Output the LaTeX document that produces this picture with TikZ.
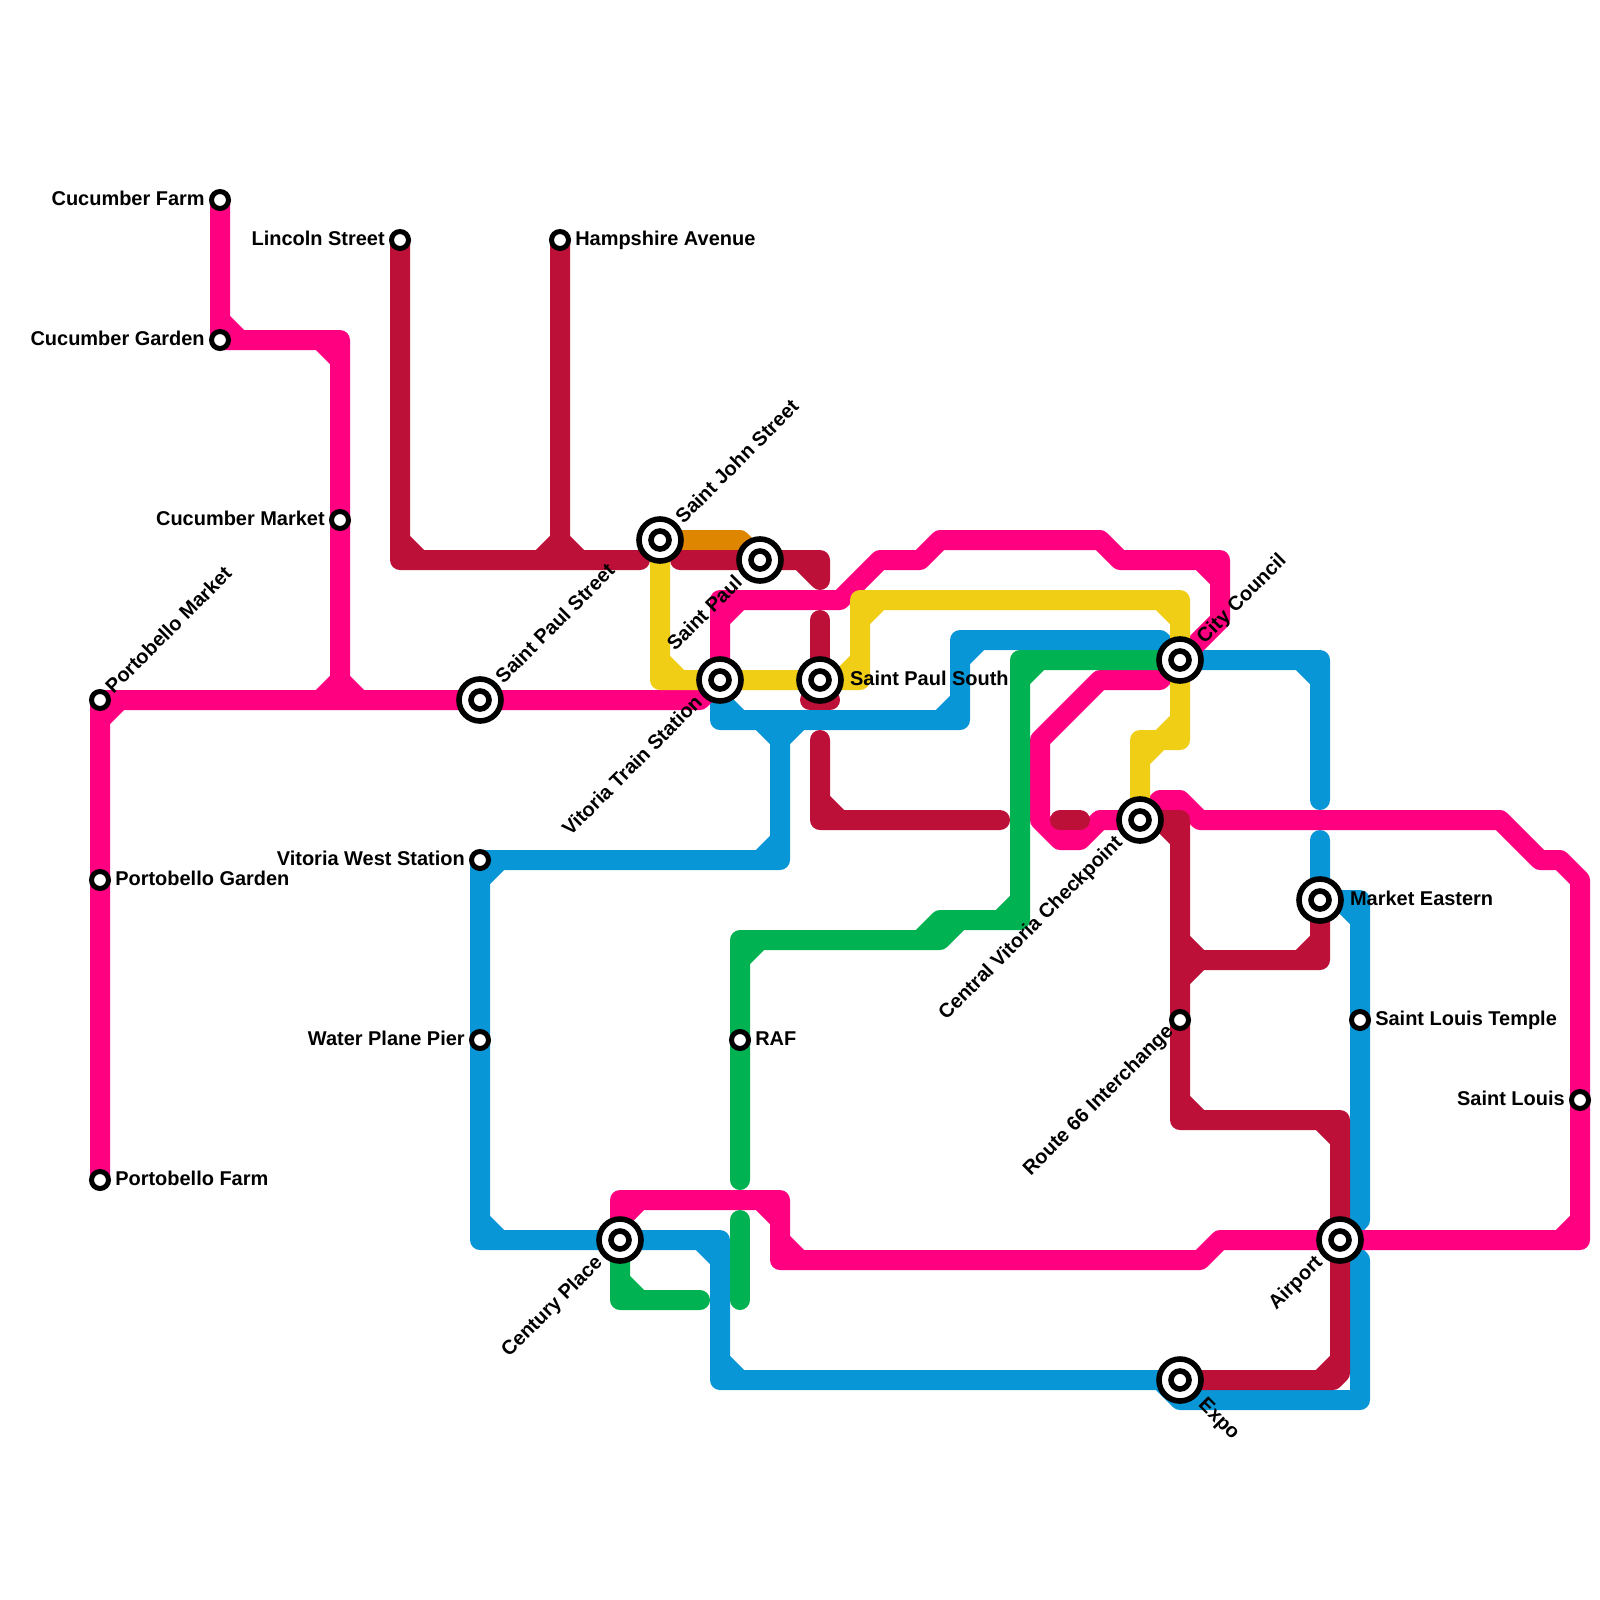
\documentclass[tikz,border=0pt]{standalone}
\usepackage{fontspec}
\setmainfont{Liberation Sans}
\usetikzlibrary{positioning,calc,backgrounds}
\definecolor{linepink}{HTML}{FF0080}
\definecolor{linered}{HTML}{BD1038}
\definecolor{lineblue}{HTML}{0896D7}
\definecolor{linegreen}{HTML}{00B251}
\definecolor{lineyellow}{HTML}{F0CE15}
\definecolor{lineorange}{HTML}{DF8600}

\begin{document}
\begin{tikzpicture}[x=0.5cm,y=-0.5cm,
  route/.style={line width=5mm,line cap=round,line join=round},
  stop/.style={circle,draw=black,fill=white,line width=1.25mm,minimum size=4.25mm,inner sep=0pt},
  hub/.style={circle,draw=black,fill=white,line width=1.4mm,minimum size=10.5mm,inner sep=0pt,
    path picture={\draw[black,line width=1.4mm] (path picture bounding box.center) circle (2.25mm);}},
  lab/.style={font=\fontsize{14.2}{16}\selectfont\bfseries,inner sep=0pt,text height=3.5mm,text depth=1mm}]

  \useasboundingbox (0,0) rectangle (80,80);

  % stations
  \node[stop] (cf) at (11,10) {};
  \node[stop] (cg) at (11,17) {};
  \node[stop] (ls) at (20,12) {};
  \node[stop] (ha) at (28,12) {};
  \node[stop] (cm) at (17,26) {};
  \node[stop] (pm) at (5,35) {};
  \node[stop] (pg) at (5,44) {};
  \node[stop] (pf) at (5,59) {};
  \node[stop] (vw) at (24,43) {};
  \node[stop] (wp) at (24,52) {};
  \node[stop] (raf) at (37,52) {};
  \node[stop] (ri) at (59,51) {};
  \node[stop] (st) at (68,51) {};
  \node[stop] (sl) at (79,55) {};
  \node[hub] (ss) at (24,35) {};
  \node[hub] (sj) at (33,27) {};
  \node[hub] (sp) at (38,28) {};
  \node[hub] (vt) at (36,34) {};
  \node[hub] (so) at (41,34) {};
  \node[hub] (cc) at (59,33) {};
  \node[hub] (cv) at (57,41) {};
  \node[hub] (me) at (66,45) {};
  \node[hub] (ap) at (67,62) {};
  \node[hub] (ex) at (59,69) {};
  \node[hub] (cp) at (31,62) {};

  \begin{scope}[on background layer]
    % orange line
    \draw[route,lineorange] (sj.center) -- (37,27) -- (sp.center);

    % blue line
    \draw[route,lineblue] (vw.center) -- (39,43) -- (39,36)
      (38,43) -- (39,42) (38,36) -- (39,37) (40,36) -- (39,37);
    \draw[route,lineblue] (vt.center) -- (36,36) -- (48,36) -- (48,32) -- (58,32) -- (cc.center)
      -- (66,33) -- (66,40)
      (36,35) -- (37,36) (47,36) -- (48,35) (48,33) -- (49,32) (65,33) -- (66,34);
    \draw[route,lineblue] (66,42) -- (me.center) -- (68,45) -- (st.center) -- (68,61) -- (ap.center)
      -- (68,63) -- (68,70) -- (59,70) -- (58,69)
      (67,45) -- (68,46);
    \draw[route,lineblue] (vw.center) -- (wp.center) -- (24,62) -- (cp.center) -- (36,62) -- (36,69)
      -- (ex.center)
      (24,44) -- (25,43) (24,61) -- (25,62) (35,62) -- (36,63) (36,68) -- (37,69);

    % pink line
    \draw[route,linepink] (cf.center) -- (cg.center) -- (17,17) -- (cm.center) -- (17,35)
      (11,16) -- (12,17) (16,17) -- (17,18) (16,35) -- (17,34) (18,35) -- (17,34);
    \draw[route,linepink] (pf.center) -- (pg.center) -- (pm.center) -- (ss.center) -- (35,35)
      -- (vt.center) -- (36,30) -- (42,30) -- (44,28) -- (46,28) -- (47,27) -- (55,27) -- (56,28)
      -- (61,28) -- (61,31) -- (cc.center) -- (58,34) -- (55,34) -- (52,37) -- (52,41) -- (53,42)
      -- (54,42) -- (55,41) -- (cv.center) -- (58,40) -- (59,40) -- (60,41) -- (75,41) -- (77,43)
      -- (78,43) -- (79,44) -- (sl.center) -- (79,62) -- (ap.center) -- (61,62) -- (60,63)
      -- (39,63) -- (39,60) -- (31,60) -- (cp.center)
      (5,36) -- (6,35) (36,31) -- (37,30) (60,28) -- (61,29) (78,62) -- (79,61)
      (39,62) -- (40,63) (38,60) -- (39,61) (31,61) -- (32,60);

    % red line, with its gaps
    \draw[route,linered] (ls.center) -- (20,28) -- (32,28) (ha.center) -- (28,28)
      (20,27) -- (21,28) (27,28) -- (28,27) (28,27) -- (29,28);
    \draw[route,linered] (34,28) -- (sp.center) -- (41,28) -- (41,29) (40,28) -- (41,29);
    \draw[route,linered] (41,31) -- (so.center) -- (41,35) (40.5,35) -- (41.5,35);
    \draw[route,linered] (41,37) -- (41,41) -- (50,41) (41,40) -- (42,41);
    \draw[route,linered] (53,41) -- (54,41);
    \draw[route,linered] (cv.center) -- (59,41) -- (ri.center) -- (59,56) -- (67,56) -- (ap.center)
      -- (67,68) -- (66,69) -- (ex.center)
      (58,41) -- (59,42) (59,55) -- (60,56) (66,56) -- (67,57)
      (67,68) -- (67,68.65) -- (66.65,69) -- (66,69);
    \draw[route,linered] (59,48) -- (66,48) -- (me.center)
      (59,47) -- (60,48) (60,48) -- (59,49) (65,48) -- (66,47);

    % green line
    \draw[route,linegreen] (cc.center) -- (51,33) -- (51,46) -- (47,46) -- (47,47) -- (37,47)
      -- (raf.center) -- (37,59)
      (51,34) -- (52,33) (50,46) -- (51,45) (46,47) -- (47,46) (48,46) -- (47,47) (37,48) -- (38,47);
    \draw[route,linegreen] (37,61) -- (37,65);
    \draw[route,linegreen] (cp.center) -- (31,65) -- (35,65) (31,64) -- (32,65);

    % yellow line
    \draw[route,lineyellow] (sj.center) -- (33,34) -- (vt.center) -- (so.center) -- (43,34) -- (43,30)
      -- (59,30) -- (cc.center) -- (59,37) -- (57,37) -- (cv.center)
      (33,33) -- (34,34) (42,34) -- (43,33) (43,31) -- (44,30) (58,30) -- (59,31)
      (59,36) -- (58,37) (58,37) -- (57,38);
  \end{scope}

  % labels beside the stations
  \node[lab,left=1mm of cf] (cflab) {Cucumber Farm};
  \node[lab,left=1mm of cg] (cglab) {Cucumber Garden};
  \node[lab,left=1mm of ls] (lslab) {Lincoln Street};
  \node[lab,right=1mm of ha] (halab) {Hampshire Avenue};
  \node[lab,left=1mm of cm] (cmlab) {Cucumber Market};
  \node[lab,right=1mm of pg] (pglab) {Portobello Garden};
  \node[lab,right=1mm of pf] (pflab) {Portobello Farm};
  \node[lab,left=1mm of vw] (vwlab) {Vitoria West Station};
  \node[lab,left=1mm of wp] (wplab) {Water Plane Pier};
  \node[lab,right=1mm of raf] (raflab) {RAF};
  \node[lab,right=1mm of st] (stlab) {Saint Louis Temple};
  \node[lab,left=1mm of sl] (sllab) {Saint Louis};
  \node[lab,right=1.5mm of so] (solab) {Saint Paul South};
  \node[lab,right=1.5mm of me] (melab) {Market Eastern};

  % labels at an angle
  \node[lab,rotate=45,anchor=west] (pmlab) at ($(pm)+(.5,-.45)$) {Portobello Market};
  \node[lab,rotate=45,anchor=west] (sslab) at ($(ss)+(1,-.95)$) {Saint Paul Street};
  \node[lab,rotate=45,anchor=west] (sjlab) at ($(sj)+(1,-.95)$) {Saint John Street};
  \node[lab,rotate=45,anchor=west] (cclab) at ($(cc)+(1.05,-.95)$) {City Council};
  \node[lab,rotate=45,anchor=east] (splab) at ($(sp)+(-1,1)$) {Saint Paul};
  \node[lab,rotate=45,anchor=east] (vtlab) at ($(vt)+(-1,1)$) {Vitoria Train Station};
  \node[lab,rotate=45,anchor=east] (cvlab) at ($(cv)+(-1,1)$) {Central Vitoria Checkpoint};
  \node[lab,rotate=45,anchor=east] (rilab) at ($(ri)+(-.45,.45)$) {Route 66 Interchange};
  \node[lab,rotate=45,anchor=east] (aplab) at ($(ap)+(-1,1)$) {Airport};
  \node[lab,rotate=45,anchor=east] (cplab) at ($(cp)+(-1,1)$) {Century Place};
  \node[lab,rotate=-45,anchor=west] (exlab) at ($(ex)+(1.05,1.1)$) {Expo};
\end{tikzpicture}
\end{document}
